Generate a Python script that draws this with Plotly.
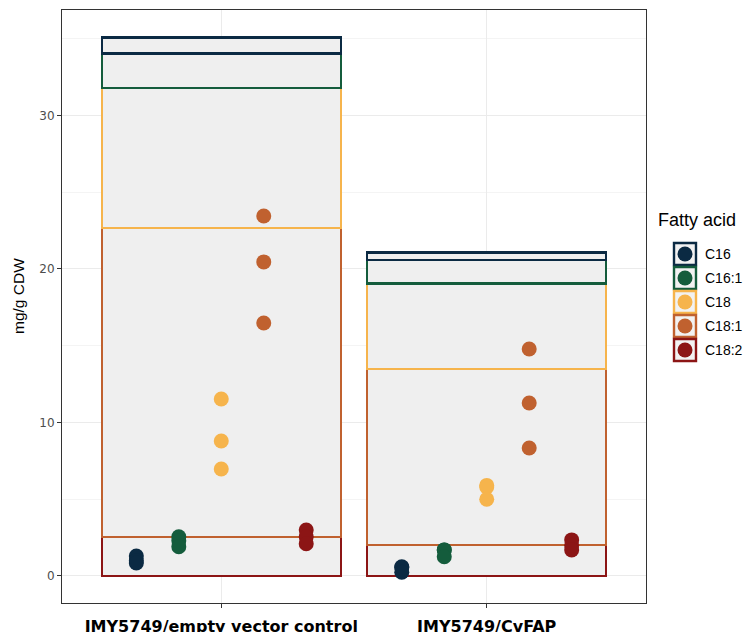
import plotly.graph_objects as go
import numpy as np

groups = ["JMY5749/empty vector control", "JMY5749/CvFAP"]
acids = ["C16", "C16:1", "C18", "C18:1", "C18:2"]
colors = ["#0B2A43", "#145C3C", "#F6B44C", "#C0612F", "#8C1515"]

# replicate values (mg/g CDW): [control, CvFAP]
c16 = [[1.3, 1.0, 0.85], [0.6, 0.55, 0.25]]
c16_1 = [[2.55, 2.3, 1.9], [1.7, 1.7, 1.25]]
c18 = [[11.53, 8.79, 6.97], [5.9, 5.8, 5.0]]
c18_1 = [[23.45, 20.46, 16.48], [14.79, 11.27, 8.34]]
c18_2 = [[3.0, 2.55, 2.1], [2.35, 2.0, 1.7]]
data = [c16, c16_1, c18, c18_1, c18_2]

DV = "DejaVu Sans, Liberation Sans, sans-serif"
LS = "Liberation Sans, Arial, Helvetica, sans-serif"

W, H = 744, 632
L, R, T, B = 62, 98, 10, 29
pw, ph = W - L - R, H - T - B

fig = go.Figure()
xpos = np.arange(1, len(groups) + 1)

# stacked bars: bottom (C18:2) first
for i in reversed(range(len(acids))):
    means = [float(np.mean(g)) for g in data[i]]
    fig.add_trace(go.Bar(
        x=xpos, y=means, width=0.9, name=acids[i], showlegend=False,
        marker=dict(color="#EFEFEF", line=dict(color=colors[i], width=2.4)),
    ))

dodge = 0.8 / len(acids)
for i in range(len(acids)):
    off = (i - (len(acids) - 1) / 2) * dodge
    xs, ys = [], []
    for gi, vals in enumerate(data[i]):
        xs += [xpos[gi] + off] * len(vals)
        ys += vals
    fig.add_trace(go.Scatter(
        x=xs, y=ys, mode="markers", name=acids[i], showlegend=False,
        marker=dict(color=colors[i], size=15, line=dict(width=0)),
    ))

# manual legend (positions given in window pixels)
def px2x(px):
    return (px - L) / pw

def px2y(py):
    return (T + ph - py) / ph

shapes = []
annotations = []
annotations.append(dict(x=px2x(656), y=px2y(220), xref="paper", yref="paper",
                        text="Fatty acid", showarrow=False, xanchor="left", yanchor="middle",
                        font=dict(family=LS, size=18, color="#000")))
annotations.append(dict(x=px2x(18), y=px2y(296), xref="paper", yref="paper",
                        text="mg/g CDW", showarrow=False, textangle=-90,
                        xanchor="center", yanchor="middle",
                        font=dict(family=LS, size=15.5, color="#000")))
for i, a in enumerate(acids):
    cy = 254 + 24 * i
    cx = 685
    shapes.append(dict(type="rect", xref="paper", yref="paper",
                       x0=px2x(cx - 11), x1=px2x(cx + 11), y0=px2y(cy + 11), y1=px2y(cy - 11),
                       fillcolor="#F2F2F2", line=dict(color=colors[i], width=2.4)))
    shapes.append(dict(type="circle", xref="paper", yref="paper",
                       x0=px2x(cx - 7.5), x1=px2x(cx + 7.5), y0=px2y(cy + 7.5), y1=px2y(cy - 7.5),
                       fillcolor=colors[i], line=dict(width=0)))
    annotations.append(dict(x=px2x(703), y=px2y(cy), xref="paper", yref="paper",
                            text=a, showarrow=False, xanchor="left", yanchor="middle",
                            font=dict(family=LS, size=14, color="#000")))

fig.update_layout(
    width=W, height=H, barmode="stack",
    margin=dict(l=L, r=R, t=T, b=B, autoexpand=False),
    paper_bgcolor="white", plot_bgcolor="white",
    shapes=shapes, annotations=annotations, showlegend=False,
    xaxis=dict(range=[0.4, 2.6], tickvals=list(xpos), ticktext=groups,
               showgrid=True, gridcolor="#EBEBEB", gridwidth=1,
               showline=True, mirror=True, linecolor="#333333", linewidth=1,
               ticks="outside", ticklen=4, tickcolor="#333333",
               ticklabelstandoff=5,
               tickfont=dict(family=DV, size=16, color="#000", weight="bold"),
               zeroline=False),
    yaxis=dict(range=[-1.76, 36.87], tickvals=[0, 10, 20, 30],
               showgrid=True, gridcolor="#EBEBEB", gridwidth=1,
               minor=dict(dtick=5, tick0=0, showgrid=True, gridcolor="#F4F4F4"),
               showline=True, mirror=True, linecolor="#333333", linewidth=1,
               ticks="outside", ticklen=4, tickcolor="#333333",
               tickfont=dict(family=DV, size=12, color="#4D4D4D"),
               zeroline=False),
)

fig.write_html(
    "out.html",
    config={"displayModeBar": False},
    post_script="document.body.style.margin='0';document.body.style.overflow='hidden';",
)
